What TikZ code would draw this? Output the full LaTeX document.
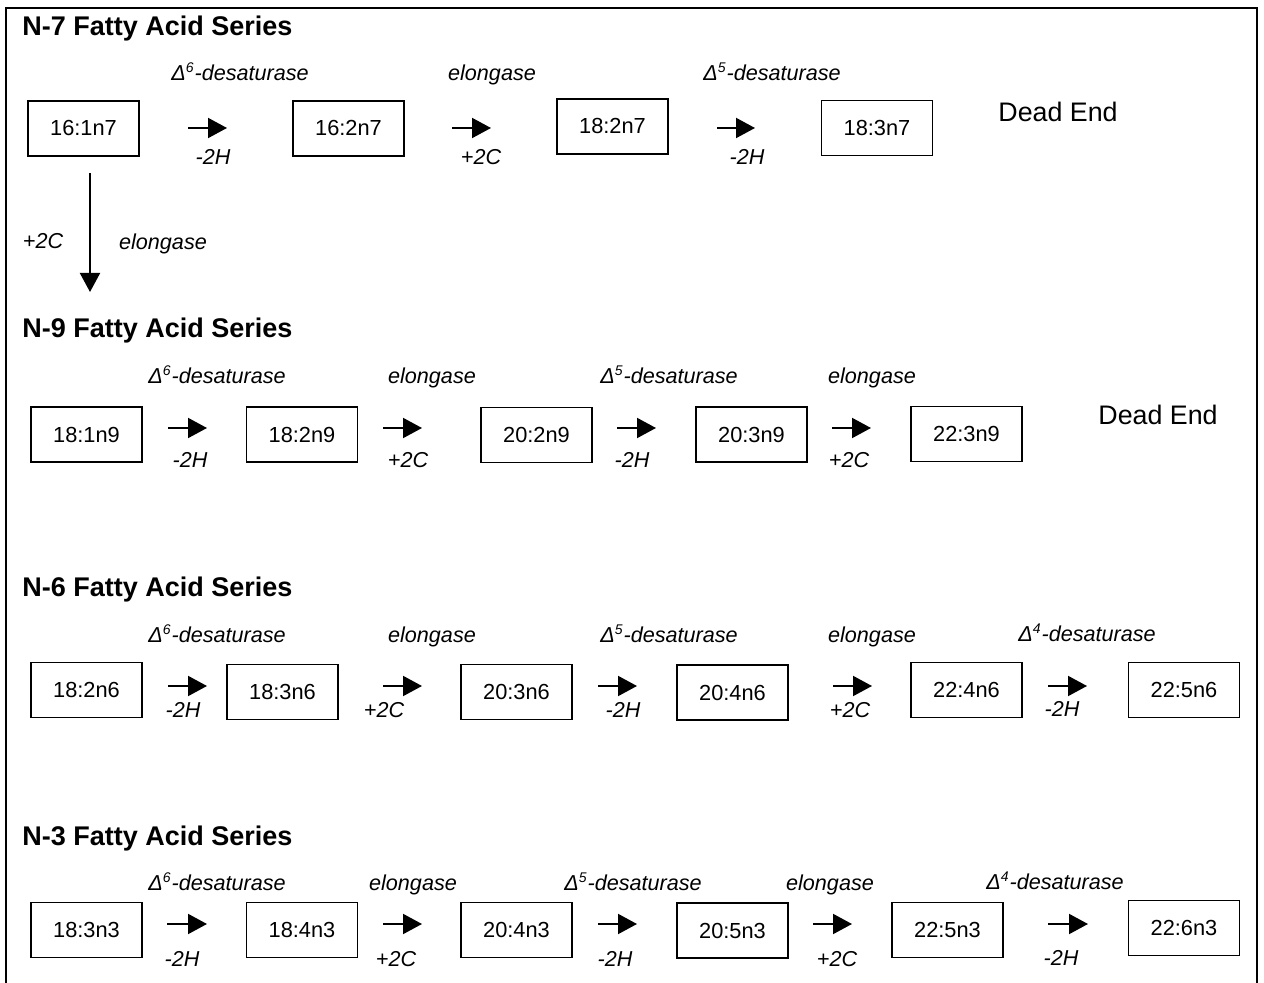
\documentclass[tikz,border=0pt]{standalone}
\usepackage{fontspec}
\setmainfont{Liberation Sans}
\usetikzlibrary{arrows.meta,positioning}
\tikzset{
	acid/.style={draw, line width=0.75pt, inner sep=0pt, minimum width=55.5pt, minimum height=27.5pt, font=\fontsize{10.9}{12}\selectfont},
	series/.style={anchor=base west, inner sep=0pt, font=\fontsize{13.5}{15}\selectfont\bfseries},
	enz/.style={inner sep=0pt, yshift=-1pt, text height=8.5pt, text depth=2.3pt, font=\fontsize{10.8}{12}\selectfont\itshape},
	chg/.style={inner sep=0pt, yshift=-1pt, text height=8pt, text depth=2.3pt, font=\fontsize{10.8}{12}\selectfont\itshape},
	deadend/.style={inner sep=0pt, font=\fontsize{13.4}{15}\selectfont},
	conv/.style={-{Triangle[length=9.5pt, width=10pt]}, line width=1pt}
}
\newcommand{\dsat}[1]{Δ\textsuperscript{\scriptsize#1}-desaturase}

\begin{document}
\begin{tikzpicture}[x=0.5pt, y=-0.5pt]
	\useasboundingbox (0,0) rectangle (1264,983);
	% frame
	\draw[line width=0.7pt] (6,990) -- (6,8) -- (1257,8) -- (1257,990);

	% N-7 series
	\node[series] (h7) at (22,36) {N-7 Fatty Acid Series};
	\node[acid] (n7a) at (83.5,128.5) {16:1n7};
	\node[acid] (n7b) at (348.5,128.5) {16:2n7};
	\node[acid] (n7c) at (612.5,126.5) {18:2n7};
	\node[acid] (n7d) at (877,128) {18:3n7};
	\node[deadend] (d7) at (1058,112) {Dead End};
	\coordinate (p7a) at (188,128); \coordinate (q7a) at (227,128);
	\coordinate (p7b) at (452,128); \coordinate (q7b) at (491,128);
	\coordinate (p7c) at (717,128); \coordinate (q7c) at (755,128);
	\draw[conv] (p7a) -- (q7a);
	\draw[conv] (p7b) -- (q7b);
	\draw[conv] (p7c) -- (q7c);
	\node[enz] (e7a) at (240,72) {\dsat{6}};
	\node[enz] (e7b) at (492,72) {elongase};
	\node[enz] (e7c) at (772,72) {\dsat{5}};
	\node[chg] (c7a) at (213,157) {-2H};
	\node[chg] (c7b) at (481,157) {+2C};
	\node[chg] (c7c) at (747,157) {-2H};

	% n-7 to n-9
	\coordinate (vt) at (90,173); \coordinate (vb) at (90,292);
	\draw[conv] (vt) -- (vb);
	\node[chg] (cv) at (43,241) {+2C};
	\node[enz] (ev) at (163,241) {elongase};

	% N-9 series
	\node[series] (h9) at (22,338) {N-9 Fatty Acid Series};
	\node[acid] (n9a) at (86.5,434.5) {18:1n9};
	\node[acid] (n9b) at (302,434.5) {18:2n9};
	\node[acid] (n9c) at (536.5,435) {20:2n9};
	\node[acid] (n9d) at (751.5,434.5) {20:3n9};
	\node[acid] (n9e) at (966.5,434) {22:3n9};
	\node[deadend] (d9) at (1158,415) {Dead End};
	\coordinate (p9a) at (168,428); \coordinate (q9a) at (207,428);
	\coordinate (p9b) at (383,428); \coordinate (q9b) at (422,428);
	\coordinate (p9c) at (617,428); \coordinate (q9c) at (656,428);
	\coordinate (p9d) at (832,428); \coordinate (q9d) at (871,428);
	\draw[conv] (p9a) -- (q9a);
	\draw[conv] (p9b) -- (q9b);
	\draw[conv] (p9c) -- (q9c);
	\draw[conv] (p9d) -- (q9d);
	\node[enz] (e9a) at (217,375) {\dsat{6}};
	\node[enz] (e9b) at (432,375) {elongase};
	\node[enz] (e9c) at (669,375) {\dsat{5}};
	\node[enz] (e9d) at (872,375) {elongase};
	\node[chg] (c9a) at (190,460) {-2H};
	\node[chg] (c9b) at (408,460) {+2C};
	\node[chg] (c9c) at (632,460) {-2H};
	\node[chg] (c9d) at (849,460) {+2C};

	% N-6 series
	\node[series] (h6) at (22,597) {N-6 Fatty Acid Series};
	\node[acid] (n6a) at (86.5,690) {18:2n6};
	\node[acid] (n6b) at (282.5,692) {18:3n6};
	\node[acid] (n6c) at (516.5,692) {20:3n6};
	\node[acid] (n6d) at (732.5,692.5) {20:4n6};
	\node[acid] (n6e) at (966.5,690) {22:4n6};
	\node[acid] (n6f) at (1184,690) {22:5n6};
	\coordinate (p6a) at (168,686); \coordinate (q6a) at (207,686);
	\coordinate (p6b) at (383,686); \coordinate (q6b) at (422,686);
	\coordinate (p6c) at (598,686); \coordinate (q6c) at (637,686);
	\coordinate (p6d) at (833,686); \coordinate (q6d) at (872,686);
	\coordinate (p6e) at (1048,686); \coordinate (q6e) at (1087,686);
	\draw[conv] (p6a) -- (q6a);
	\draw[conv] (p6b) -- (q6b);
	\draw[conv] (p6c) -- (q6c);
	\draw[conv] (p6d) -- (q6d);
	\draw[conv] (p6e) -- (q6e);
	\node[enz] (e6a) at (217,634) {\dsat{6}};
	\node[enz] (e6b) at (432,634) {elongase};
	\node[enz] (e6c) at (669,634) {\dsat{5}};
	\node[enz] (e6d) at (872,634) {elongase};
	\node[enz] (e6e) at (1087,633) {\dsat{4}};
	\node[chg] (c6a) at (183,710) {-2H};
	\node[chg] (c6b) at (384,710) {+2C};
	\node[chg] (c6c) at (623,710) {-2H};
	\node[chg] (c6d) at (850,710) {+2C};
	\node[chg] (c6e) at (1062,709) {-2H};

	% N-3 series
	\node[series] (h3) at (22,845) {N-3 Fatty Acid Series};
	\node[acid] (n3a) at (86.5,930) {18:3n3};
	\node[acid] (n3b) at (302,930) {18:4n3};
	\node[acid] (n3c) at (516.5,930) {20:4n3};
	\node[acid] (n3d) at (732.5,930.5) {20:5n3};
	\node[acid] (n3e) at (947.5,930) {22:5n3};
	\node[acid] (n3f) at (1184,928) {22:6n3};
	\coordinate (p3a) at (167,924); \coordinate (q3a) at (207,924);
	\coordinate (p3b) at (383,924); \coordinate (q3b) at (422,924);
	\coordinate (p3c) at (598,924); \coordinate (q3c) at (637,924);
	\coordinate (p3d) at (813,924); \coordinate (q3d) at (852,924);
	\coordinate (p3e) at (1048,924); \coordinate (q3e) at (1088,924);
	\draw[conv] (p3a) -- (q3a);
	\draw[conv] (p3b) -- (q3b);
	\draw[conv] (p3c) -- (q3c);
	\draw[conv] (p3d) -- (q3d);
	\draw[conv] (p3e) -- (q3e);
	\node[enz] (e3a) at (217,882) {\dsat{6}};
	\node[enz] (e3b) at (413,882) {elongase};
	\node[enz] (e3c) at (633,882) {\dsat{5}};
	\node[enz] (e3d) at (830,882) {elongase};
	\node[enz] (e3e) at (1055,881) {\dsat{4}};
	\node[chg] (c3a) at (182,959) {-2H};
	\node[chg] (c3b) at (396,959) {+2C};
	\node[chg] (c3c) at (615,959) {-2H};
	\node[chg] (c3d) at (837,959) {+2C};
	\node[chg] (c3e) at (1061,958) {-2H};
\end{tikzpicture}
\end{document}
